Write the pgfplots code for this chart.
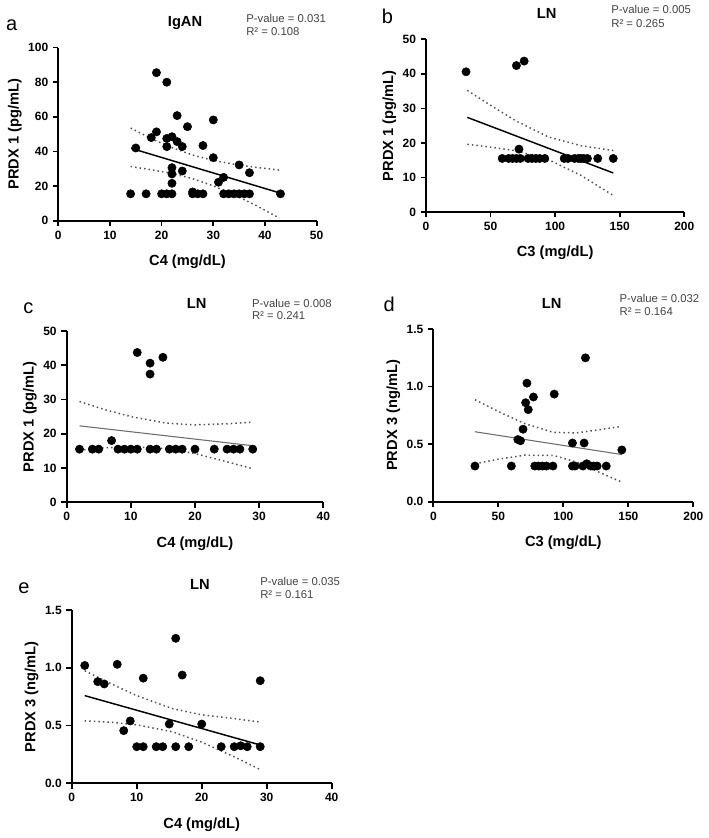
\documentclass[border=0pt]{standalone}
\usepackage{pgfplots}
\pgfplotsset{compat=1.18}
\usepackage{fontspec}
\setmainfont{Liberation Sans}
\definecolor{ann}{HTML}{444444}
\definecolor{cil}{HTML}{505050}
\pgfplotsset{
  gp/.style={
    scale only axis, anchor=south west, clip=false,
    axis x line*=bottom, axis y line*=left,
    axis line style={line width=1.3pt, black},
    tick style={line width=1.3pt, black},
    major tick length=4pt, tick align=outside,
    ticklabel style={font=\fontsize{9}{10}\selectfont\bfseries},
    label style={font=\fontsize{11}{12}\selectfont\bfseries},
    /pgf/number format/assume math mode=true,
    enlargelimits=false,
    xlabel style={yshift=-5pt},
    ylabel style={yshift=-2pt},
  },
  pts/.style={only marks, mark=*, mark size=3.1pt, black, mark options={fill=black}},
  fit/.style={black, line width=1.1pt, no marks},
  fitg/.style={gray!85!black, line width=0.8pt, no marks},
  band/.style={cil, line width=1.1pt, dash pattern=on 1.1pt off 2.3pt, no marks},
  dec1/.style={yticklabel style={/pgf/number format/.cd, fixed, fixed zerofill, precision=1}},
}
\begin{document}
\begin{tikzpicture}
\useasboundingbox (0,0) rectangle (531pt,628.5pt);
% ---------- a ----------
\begin{axis}[gp, at={(43.7pt,463.0pt)}, width=193.8pt, height=129.8pt,
  xmin=0, xmax=50, ymin=0, ymax=100, xtick={0,10,...,50}, ytick={0,20,...,100},
  xlabel={C4 (mg/dL)}, ylabel={PRDX 1 (pg/mL)}]
\addplot[pts] coordinates {
(14,15.5)(15,42)(17,15.5)(18,48)(19,85.5)(19,51.3)(20,15.5)(21,80)(21,47.5)(21,42.8)
(21,15.5)(22,48.5)(22,30.6)(22,27)(22,21.6)(22,15.5)(23,60.7)(23,45.7)(24,42.8)(24,28.7)
(25,54.3)(26,16.6)(26,15.5)(27,15.5)(28,15.5)(28,43.4)(30,58.2)(30,36.4)(31,22.2)(32,25)
(32,15.5)(33,15.5)(34,15.5)(35,15.5)(36,15.5)(37,15.5)(35,32.2)(37,27.7)(43,15.5)};
\addplot[fit] coordinates {(14.1,41.8)(43.1,15.8)};
\addplot[band] coordinates {(14,53.5)(18,47.4)(22,42.2)(26,37.9)(30,34.8)(34,32.6)(38,30.9)(42.8,29.2)};
\addplot[band] coordinates {(14,31.3)(18,29.4)(22,27.3)(26,24.3)(30,20.1)(34,15.0)(38,9.2)(42.8,1.5)};
\end{axis}
% ---------- b ----------
\begin{axis}[gp, at={(319.5pt,469.5pt)}, width=193.7pt, height=129.5pt,
  xmin=0, xmax=200, ymin=0, ymax=50, xtick={0,50,...,200}, ytick={0,10,...,50},
  xlabel={C3 (mg/dL)}, ylabel={PRDX 1 (pg/mL)}]
\addplot[pts] coordinates {
(31,40.6)(70,42.4)(76,43.7)(72,18.2)
(59,15.5)(64,15.5)(67,15.5)(70,15.5)(73,15.5)(79,15.5)(82,15.5)(85,15.5)(88,15.5)(92,15.5)
(107,15.5)(110,15.5)(115,15.5)(118,15.5)(120,15.5)(122,15.5)(125,15.5)(133,15.5)(145,15.5)};
\addplot[fit] coordinates {(32,27.4)(145,11.3)};
\addplot[band] coordinates {(32,35.2)(50,30.9)(70,26.3)(95,21.7)(120,19.2)(145,17.8)};
\addplot[band] coordinates {(32,19.6)(50,18.8)(70,17.7)(95,15.1)(120,10.6)(145,4.8)};
\end{axis}
% ---------- c ----------
\begin{axis}[gp, at={(50.0pt,251.8pt)}, width=192.5pt, height=128.5pt,
  xmin=0, xmax=40, ymin=0, ymax=50, xtick={0,10,...,40}, ytick={0,10,...,50},
  xlabel={C4 (mg/dL)}, ylabel={PRDX 1 (pg/mL)}]
\addplot[pts] coordinates {
(11,43.7)(13,40.6)(13,37.4)(15,42.3)(7,18)
(2,15.5)(4,15.5)(5,15.5)(8,15.5)(9,15.5)(10,15.5)(11,15.5)(13,15.5)(14,15.5)(16,15.5)
(17,15.5)(18,15.5)(20,15.5)(23,15.5)(25,15.5)(26,15.5)(27,15.5)(29,15.5)};
\addplot[fitg] coordinates {(2,22.3)(29,16.5)};
\addplot[band] coordinates {(2,29.4)(6,27.0)(10,25.0)(15.5,23.1)(20,22.6)(25,22.9)(29,23.4)};
\addplot[band] coordinates {(2,15.2)(6,15.9)(10,16.2)(15.5,15.7)(20,14.2)(25,11.8)(29,9.8)};
\end{axis}
% ---------- d ----------
\begin{axis}[gp, dec1, at={(325.0pt,252.2pt)}, width=195pt, height=129.5pt,
  xmin=0, xmax=200, ymin=0, ymax=1.5, xtick={0,50,...,200}, ytick={0,0.5,1.0,1.5},
  xlabel={C3 (mg/dL)}, ylabel={PRDX 3 (ng/mL)}]
\addplot[pts] coordinates {
(65,0.54)(67,0.53)(69,0.63)(71,0.86)(72,1.03)(73,0.80)(77,0.91)(93,0.935)(117,1.25)
(107,0.51)(116,0.51)(145,0.45)
(32,0.31)(60,0.31)(78,0.31)(81,0.31)(84,0.31)(87,0.31)(92,0.31)(107,0.31)(109,0.31)
(115,0.31)(118,0.33)(121,0.31)(123,0.31)(126,0.31)(133,0.31)};
\addplot[fitg] coordinates {(32,0.608)(145,0.410)};
\addplot[band] coordinates {(32,0.886)(50,0.784)(70,0.680)(92,0.603)(110,0.598)(130,0.629)(145,0.655)};
\addplot[band] coordinates {(32,0.330)(50,0.369)(70,0.404)(92,0.403)(110,0.345)(130,0.244)(145,0.170)};
\end{axis}
% ---------- e ----------
\begin{axis}[gp, dec1, at={(53.8pt,41.0pt)}, width=195pt, height=130pt,
  xmin=0, xmax=40, ymin=0, ymax=1.5, xtick={0,10,...,40}, ytick={0,0.5,1.0,1.5},
  xlabel={C4 (mg/dL)}, ylabel={PRDX 3 (ng/mL)}]
\addplot[pts] coordinates {
(2,1.02)(4,0.88)(5,0.86)(7,1.03)(8,0.456)(9,0.54)(11,0.91)(15,0.513)(16,1.255)(17,0.937)
(20,0.513)(29,0.888)
(10,0.317)(11,0.317)(13,0.317)(14,0.317)(16,0.317)(18,0.317)(23,0.317)(25,0.317)
(26,0.325)(27,0.317)(29,0.317)};
\addplot[fit] coordinates {(2,0.759)(29,0.332)};
\addplot[band] coordinates {(2,0.974)(6,0.863)(10,0.759)(15.5,0.646)(20,0.593)(25,0.560)(29,0.530)};
\addplot[band] coordinates {(2,0.540)(6,0.529)(10,0.506)(15.5,0.446)(20,0.356)(25,0.229)(29,0.119)};
\end{axis}
% ---------- annotations ----------
\begin{scope}[every node/.style={inner sep=0pt}]
\node[anchor=base, font=\fontsize{15}{16}\selectfont] at (8.8pt,605.5pt) {a};
\node[anchor=base, font=\fontsize{15}{16}\selectfont] at (290.6pt,610.5pt) {b};
\node[anchor=base, font=\fontsize{15}{16}\selectfont] at (21.2pt,393.5pt) {c};
\node[anchor=base, font=\fontsize{15}{16}\selectfont] at (291.8pt,394.7pt) {d};
\node[anchor=base, font=\fontsize{15}{16}\selectfont] at (18.0pt,183.5pt) {e};
\node[anchor=base, font=\fontsize{11}{12}\selectfont\bfseries] at (138.8pt,608.5pt) {IgAN};
\node[anchor=base, font=\fontsize{11}{12}\selectfont\bfseries] at (410.0pt,614.8pt) {LN};
\node[anchor=base, font=\fontsize{11}{12}\selectfont\bfseries] at (147.5pt,397.3pt) {LN};
\node[anchor=base, font=\fontsize{11}{12}\selectfont\bfseries] at (413.8pt,397.3pt) {LN};
\node[anchor=base, font=\fontsize{11}{12}\selectfont\bfseries] at (150.0pt,186.5pt) {LN};
\tikzset{pv/.style={anchor=base west, text=ann, font=\fontsize{8.5}{10}\selectfont}}
\node[pv] at (184.5pt,611.5pt) {P-value = 0.031};
\node[pv] at (184.5pt,601.5pt) {R² = 0.108};
\node[pv] at (458.3pt,618.0pt) {P-value = 0.005};
\node[pv] at (458.3pt,608.0pt) {R² = 0.265};
\node[pv] at (188.8pt,397.7pt) {P-value = 0.008};
\node[pv] at (188.8pt,388.5pt) {R² = 0.241};
\node[pv] at (464.5pt,401.5pt) {P-value = 0.032};
\node[pv] at (464.5pt,391.5pt) {R² = 0.164};
\node[pv] at (195.0pt,189.0pt) {P-value = 0.035};
\node[pv] at (195.0pt,179.8pt) {R² = 0.161};
\end{scope}
\end{tikzpicture}
\end{document}
